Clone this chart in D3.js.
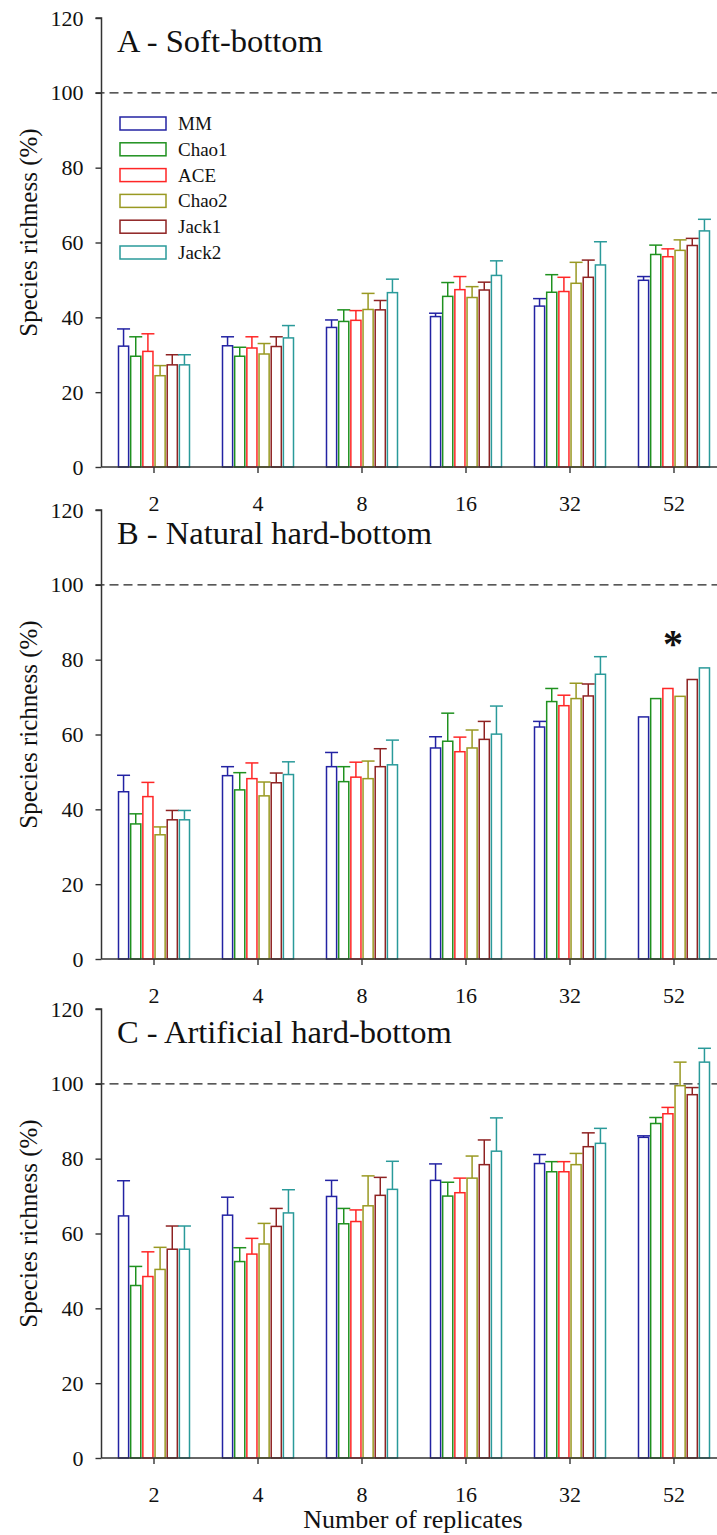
<!DOCTYPE html>
<html>
<head>
<meta charset="utf-8">
<script src="https://cdn.jsdelivr.net/npm/d3@7"></script>
<style>
  html, body { margin: 0; padding: 0; background: #fff; }
  svg { display: block; }
  text { font-family: "Liberation Serif", "Times New Roman", serif; fill: #111; }
</style>
</head>
<body>
<svg id="chart" width="717" height="1535"></svg>
<script>
// Replicate counts (x categories) and richness estimators (series)
const replicates = ["2", "4", "8", "16", "32", "52"];
const estimators = ["MM", "Chao1", "ACE", "Chao2", "Jack1", "Jack2"];
const estimatorColors = ["#2323a3", "#1f911f", "#ff2626", "#999922", "#8e2222", "#2a9a9a"];
const yTicks = [0, 20, 40, 60, 80, 100, 120];

// Mean richness (%) per replicate group, one value per estimator
const softMean = [
  [32.3, 29.6, 30.9, 24.4, 27.3, 27.3],
  [32.4, 29.6, 31.8, 30.2, 32.2, 34.5],
  [37.3, 38.9, 39.2, 42.1, 42.0, 46.6],
  [40.2, 45.6, 47.4, 45.3, 47.3, 51.2],
  [43.0, 46.7, 46.9, 49.1, 50.7, 54.0],
  [49.9, 56.8, 56.2, 57.9, 59.2, 63.1]
];
const softErr = [
  [4.6, 5.2, 4.7, 2.7, 2.7, 2.7],
  [2.4, 2.4, 3.0, 2.8, 2.6, 3.3],
  [2.0, 3.1, 2.6, 4.3, 2.5, 3.6],
  [0.9, 3.7, 3.5, 2.9, 2.1, 3.9],
  [2.0, 4.7, 3.8, 5.6, 4.6, 6.2],
  [1.0, 2.5, 2.1, 2.8, 1.9, 3.1]
];

const naturalMean = [
  [44.7, 36.1, 43.4, 33.2, 37.2, 37.2],
  [49.0, 45.2, 48.2, 43.6, 47.1, 49.3],
  [51.4, 47.4, 48.6, 48.2, 51.4, 51.9],
  [56.4, 58.2, 55.4, 56.4, 58.7, 60.1],
  [62.0, 68.8, 67.7, 69.6, 70.3, 76.1],
  [64.7, 69.6, 72.3, 70.2, 74.7, 77.8]
];
const naturalErr = [
  [4.4, 2.7, 3.8, 2.1, 2.5, 2.5],
  [2.4, 4.6, 4.2, 3.7, 2.6, 3.4],
  [3.8, 4.0, 4.0, 4.7, 4.8, 6.6],
  [3.0, 7.5, 3.9, 4.8, 4.8, 7.5],
  [1.5, 3.5, 2.8, 4.1, 3.2, 4.7],
  [0, 0, 0, 0, 0, 0]
];

const artificialMean = [
  [64.7, 46.1, 48.5, 50.4, 55.8, 55.8],
  [64.9, 52.5, 54.5, 57.2, 61.9, 65.5],
  [69.9, 62.6, 63.2, 67.4, 70.2, 71.8],
  [74.2, 70.0, 70.9, 74.8, 78.4, 82.0],
  [78.7, 76.5, 76.5, 78.4, 83.2, 84.1],
  [85.7, 89.4, 92.0, 99.5, 97.1, 105.8]
];
const artificialErr = [
  [9.4, 5.1, 6.6, 5.9, 6.2, 6.2],
  [4.8, 3.7, 4.2, 5.5, 4.8, 6.2],
  [4.3, 4.1, 3.1, 8.0, 4.8, 7.5],
  [4.4, 3.7, 3.9, 5.9, 6.6, 8.9],
  [2.4, 2.7, 2.7, 3.0, 3.7, 4.0],
  [0.4, 1.6, 1.7, 6.3, 1.9, 3.7]
];

const panels = [
  { title: "A - Soft-bottom", mean: softMean, err: softErr, base: 467, legend: true, star: null },
  { title: "B - Natural hard-bottom", mean: naturalMean, err: naturalErr, base: 959, legend: false, star: "52" },
  { title: "C - Artificial hard-bottom", mean: artificialMean, err: artificialErr, base: 1458, legend: false, star: null }
];

const svg = d3.select("#chart");
const axisX = 101.5;
const plotRight = 717;
const plotH = 449;

const x0 = d3.scaleBand().domain(replicates).range([102, 726]).paddingInner(0).paddingOuter(0);
const x1 = d3.scaleBand().domain(estimators).range([-35.5, 35.5]).paddingInner(0.17).paddingOuter(0);
const color = d3.scaleOrdinal().domain(estimators).range(estimatorColors);

panels.forEach(p => {
  const y = d3.scaleLinear().domain([0, 120]).range([p.base, p.base - plotH]);
  const g = svg.append("g");

  // reference line at 100 %
  g.append("line")
    .attr("x1", axisX - 6).attr("x2", plotRight)
    .attr("y1", y(100)).attr("y2", y(100))
    .attr("stroke", "#222").attr("stroke-width", 1.4)
    .attr("stroke-dasharray", "9,5");

  // bars with upper error whiskers
  const rows = [];
  replicates.forEach((r, i) => {
    estimators.forEach((e, j) => {
      rows.push({ rep: r, est: e, v: p.mean[i][j], sd: p.err[i][j] });
    });
  });

  const bw = x1.bandwidth();
  const barG = g.selectAll("g.bar").data(rows).join("g").attr("class", "bar");
  barG.each(function(d) {
    const gg = d3.select(this);
    const cx = x0(d.rep) + x0.bandwidth() / 2 + x1(d.est);
    const c = color(d.est);
    if (d.sd > 0) {
      gg.append("line")
        .attr("x1", cx + bw / 2).attr("x2", cx + bw / 2)
        .attr("y1", y(d.v)).attr("y2", y(d.v + d.sd))
        .attr("stroke", c).attr("stroke-width", 1.5);
      gg.append("line")
        .attr("x1", cx + bw / 2 - 6.5).attr("x2", cx + bw / 2 + 6.5)
        .attr("y1", y(d.v + d.sd)).attr("y2", y(d.v + d.sd))
        .attr("stroke", c).attr("stroke-width", 1.5);
    }
    gg.append("rect")
      .attr("x", cx).attr("y", y(d.v))
      .attr("width", bw).attr("height", y(0) - y(d.v))
      .attr("fill", "#fff").attr("stroke", c).attr("stroke-width", 1.5);
  });

  // y axis
  const yAxis = d3.axisLeft(y).tickValues(yTicks).tickSize(6).tickPadding(12).tickFormat(d3.format("d"));
  const ya = g.append("g").attr("transform", `translate(${axisX},0)`).call(yAxis);
  ya.select(".domain").attr("stroke", "#333").attr("stroke-width", 1.5).attr("d", `M-6,${y(120)}H0V${y(0)}`);
  ya.selectAll(".tick line").attr("stroke", "#333").attr("stroke-width", 1.4);
  ya.selectAll(".tick text").attr("font-size", 22).attr("fill", "#111")
    .attr("font-family", "'Liberation Serif', 'Times New Roman', serif");

  // x axis
  const xAxis = d3.axisBottom(x0).tickSize(6).tickPadding(22);
  const xa = g.append("g").attr("transform", `translate(0,${p.base})`).call(xAxis);
  xa.select(".domain").attr("stroke", "#333").attr("stroke-width", 1.5).attr("d", `M${axisX},0H${plotRight}`);
  xa.selectAll(".tick line").attr("stroke", "#333").attr("stroke-width", 1.4);
  xa.selectAll(".tick text").attr("font-size", 22).attr("fill", "#111")
    .attr("font-family", "'Liberation Serif', 'Times New Roman', serif");

  // panel title
  g.append("text")
    .attr("x", 117).attr("y", y(120) + 34)
    .attr("font-size", 32.5)
    .text(p.title);

  // y axis title
  const midY = (y(0) + y(120)) / 2 - 10;
  g.append("text")
    .attr("transform", `translate(37,${midY}) rotate(-90)`)
    .attr("text-anchor", "middle")
    .attr("font-size", 25)
    .text("Species richness (%)");

  if (p.star) {
    g.append("text")
      .attr("x", x0(p.star) + x0.bandwidth() / 2 - 1)
      .attr("y", y(120) + 147)
      .attr("text-anchor", "middle")
      .attr("font-size", 40)
      .attr("font-weight", "bold")
      .text("*");
  }

  if (p.legend) {
    const lg = g.append("g").attr("transform", "translate(120,117)");
    estimators.forEach((e, k) => {
      const row = lg.append("g").attr("transform", `translate(0,${k * 25.8})`);
      row.append("rect").attr("x", 0).attr("y", 0).attr("width", 46).attr("height", 13)
        .attr("fill", "#fff").attr("stroke", color(e)).attr("stroke-width", 1.5);
      row.append("text").attr("x", 58).attr("y", 13).attr("font-size", 19).text(e);
    });
  }
});

// shared x axis title
svg.append("text")
  .attr("x", 413).attr("y", 1528)
  .attr("text-anchor", "middle")
  .attr("font-size", 26)
  .text("Number of replicates");
</script>
</body>
</html>
